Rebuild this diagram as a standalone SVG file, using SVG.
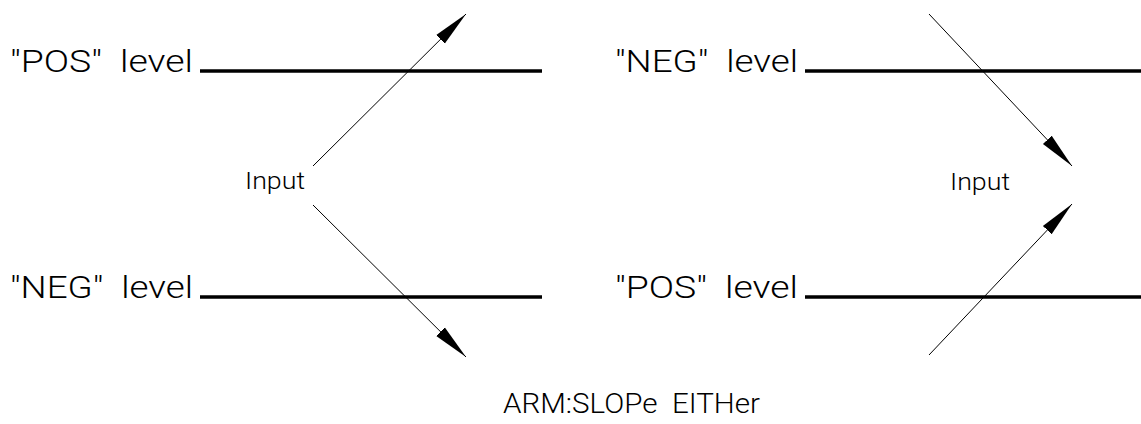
<svg xmlns="http://www.w3.org/2000/svg" width="1141" height="424" viewBox="0 0 1141 424">
<defs>
<marker id="ah" markerUnits="userSpaceOnUse" markerWidth="40" markerHeight="16" refX="36" refY="7" orient="auto" viewBox="0 0 40 14">
<path d="M0,1 L36,7 L0,13 Z" fill="#000"/>
</marker>
<style>
.lvl{stroke:#000;stroke-width:3.5;fill:none}
.sig{stroke:#000;stroke-width:1;fill:none}
.arr{marker-end:url(#ah)}
text{font-family:Roboto,"Liberation Sans",Arial,sans-serif;font-weight:300;fill:#000;white-space:pre}
.lbl{font-size:31px}
.inp{font-size:23px}
.ttl{font-size:28px}
</style>
</defs>
<rect width="1141" height="424" fill="#fff"/>
<g id="left-pos-level">
<text class="lbl" x="10" y="72" textLength="183" lengthAdjust="spacingAndGlyphs">"POS"  level</text>
<line class="lvl" x1="200" y1="71" x2="542" y2="71"/>
</g>
<g id="left-neg-level">
<text class="lbl" x="10" y="298" textLength="183" lengthAdjust="spacingAndGlyphs">"NEG"  level</text>
<line class="lvl" x1="200" y1="297" x2="542" y2="297"/>
</g>
<g id="left-input">
<text class="inp" x="245" y="189" textLength="60" lengthAdjust="spacingAndGlyphs">Input</text>
</g>
<g id="right-neg-level">
<text class="lbl" x="615" y="72" textLength="183" lengthAdjust="spacingAndGlyphs">"NEG"  level</text>
<line class="lvl" x1="805" y1="71" x2="1141" y2="71"/>
</g>
<g id="right-pos-level">
<text class="lbl" x="615" y="298" textLength="183" lengthAdjust="spacingAndGlyphs">"POS"  level</text>
<line class="lvl" x1="805" y1="297" x2="1141" y2="297"/>
</g>
<g id="right-input">
<text class="inp" x="950" y="190" textLength="60" lengthAdjust="spacingAndGlyphs">Input</text>
</g>
<g id="connectors">
<line class="sig arr" x1="313" y1="166" x2="466" y2="14"/>
<line class="sig arr" x1="313" y1="205" x2="466" y2="357"/>
<line class="sig arr" x1="929" y1="14" x2="1072" y2="166"/>
<line class="sig arr" x1="929" y1="355" x2="1072" y2="204"/>
</g>
<g id="caption">
<text class="ttl" x="503" y="413" textLength="257" lengthAdjust="spacingAndGlyphs">ARM:SLOPe  EITHer</text>
</g>
</svg>
